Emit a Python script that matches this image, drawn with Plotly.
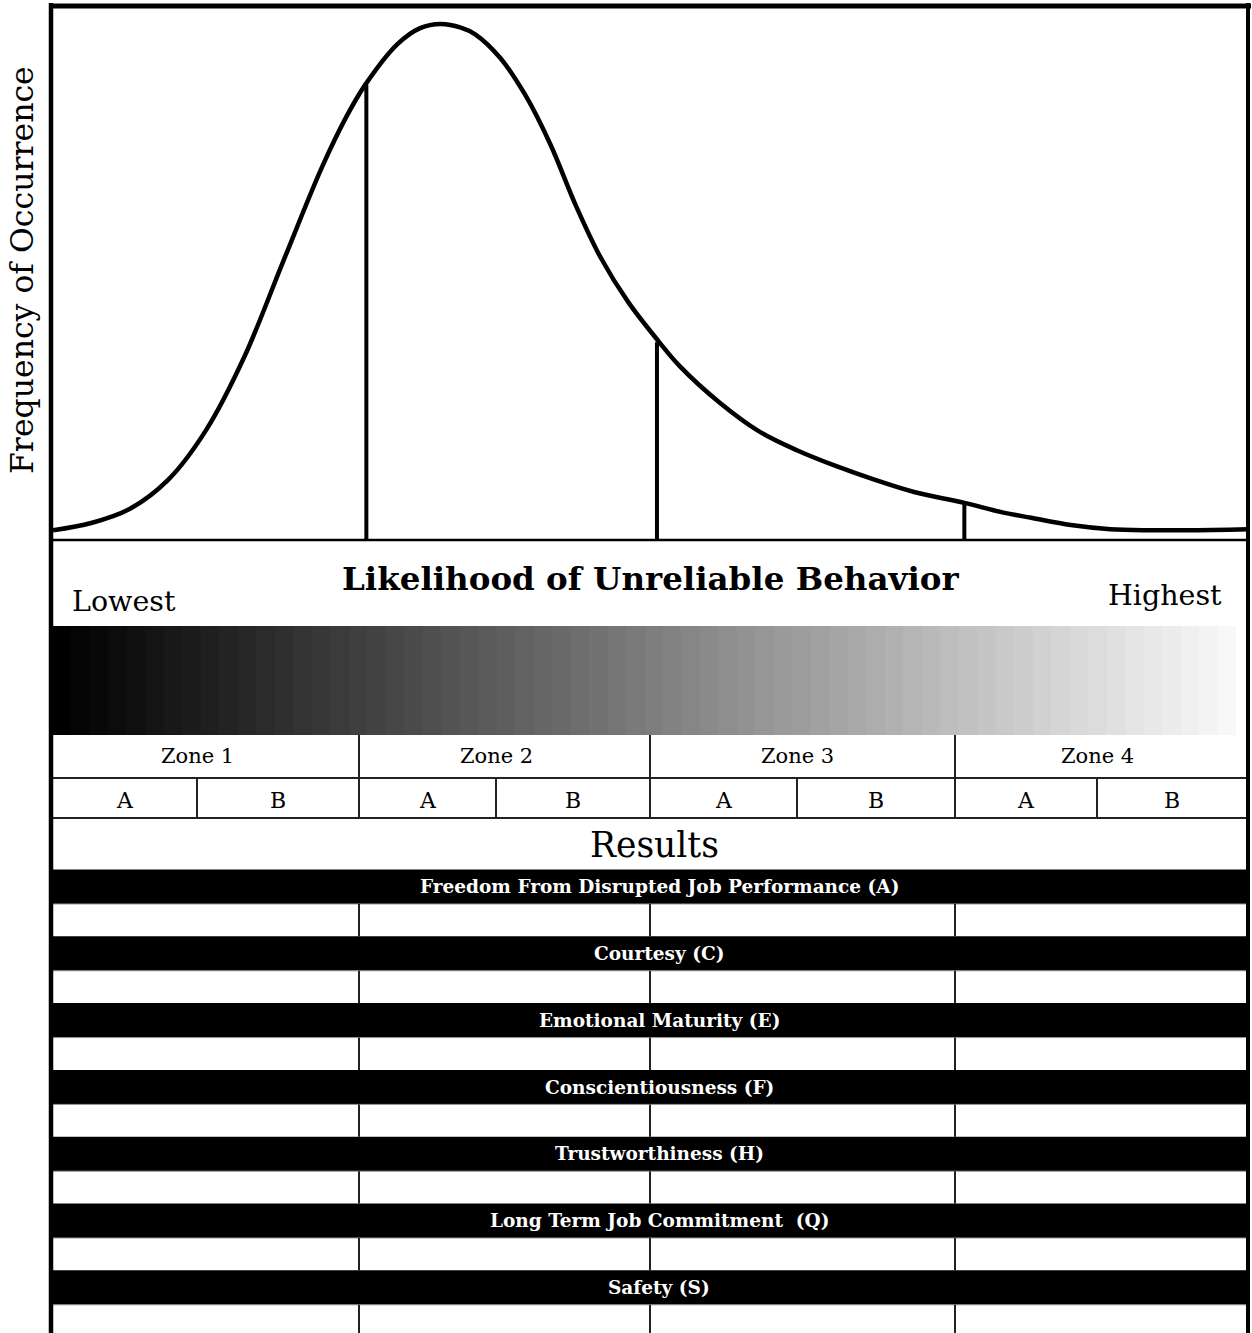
import plotly.graph_objects as go

W, H = 1252, 1333

# ---------------- data ----------------
score = [0, 3.2, 6.4, 9.6, 12.8, 16.0, 19.3, 22.5, 24.5, 26.1, 28.8, 30.7, 32.4,
         34.1, 35.3, 37.4, 39.5, 41.6, 43.7, 45.8, 48.1, 50.6, 52.4, 55.7, 59.0,
         62.2, 65.5, 68.8, 72.0, 76.2, 79.3, 81.8, 85.1, 88.4, 91.6, 94.9, 100]
frequency = [1.9, 3.3, 6.0, 11.6, 21.3, 35.5, 54.3, 72.3, 81.9, 88.2, 96.1, 99.2, 100,
             99.3, 98.0, 93.4, 86.2, 76.6, 64.9, 54.7, 46.1, 38.6, 33.7, 26.7, 21.1,
             17.4, 14.3, 11.6, 9.3, 7.2, 5.4, 4.3, 2.9, 2.1, 1.9, 1.9, 2.1]
cut_scores = [26.2, 50.5, 76.2]
cut_heights = [88.2, 38.3, 7.2]

zone_labels = ["Zone 1", "Zone 2", "Zone 3", "Zone 4"]
sub_labels = ["A", "B"]
result_labels = [
    "Freedom From Disrupted Job Performance (A)",
    "Courtesy (C)",
    "Emotional Maturity (E)",
    "Conscientiousness (F)",
    "Trustworthiness (H)",
    "Long Term Job Commitment&nbsp; (Q)",
    "Safety (S)",
]

# ---------------- layout geometry (pixels) ----------------
LEFT, RIGHT = 51, 1248
BASE_Y = 540
GRAD_TOP, GRAD_BOT, GRAD_RIGHT = 626, 735, 1236
ZONE_BOT, AB_BOT, RES_BOT = 778, 818, 869
zone_edges = [53, 359, 650, 955, 1247]
ab_mid = [197, 496, 797, 1097]
band_top0, band_pitch, band_h = 869.5, 66.8, 34.5

SERIF = "DejaVu Serif"

fig = go.Figure()

# gradient bar
n_steps = 64
edges = [53 + (GRAD_RIGHT - 53) * i / n_steps for i in range(n_steps + 1)]
fig.add_trace(go.Heatmap(
    z=[list(range(n_steps))], x=edges, y=[GRAD_TOP, GRAD_BOT],
    colorscale=[[0, "#000000"], [1, "#f8f8f8"]], showscale=False,
    hoverinfo="skip", xaxis="x2", yaxis="y2"))

# curve
fig.add_trace(go.Scatter(
    x=score, y=frequency, mode="lines",
    line=dict(color="black", width=4.5, shape="spline", smoothing=1.0),
    hoverinfo="skip", xaxis="x", yaxis="y", showlegend=False))

# cut lines
cx, cy = [], []
for s, h in zip(cut_scores, cut_heights):
    cx += [s, s, None]
    cy += [0, h, None]
fig.add_trace(go.Scatter(
    x=cx, y=cy, mode="lines", line=dict(color="black", width=4),
    hoverinfo="skip", xaxis="x", yaxis="y", showlegend=False))

shapes = []
def line(x0, y0, x1, y1, w=2, c="#111"):
    shapes.append(dict(type="line", xref="x2", yref="y2", x0=x0, y0=y0, x1=x1, y1=y1,
                       line=dict(color=c, width=w)))

def rect(x0, y0, x1, y1, c="black"):
    shapes.append(dict(type="rect", xref="x2", yref="y2", x0=x0, y0=y0, x1=x1, y1=y1,
                       fillcolor=c, line=dict(width=0)))

# baseline under curve
line(53, BASE_Y, 1247, BASE_Y, 2.5, "#000")
# table rows
line(53, ZONE_BOT, 1247, ZONE_BOT, 2, "#222")
line(53, AB_BOT, 1247, AB_BOT, 2, "#222")
for x in zone_edges[1:-1]:
    line(x, GRAD_BOT, x, AB_BOT, 2, "#222")
for x in ab_mid:
    line(x, ZONE_BOT, x, AB_BOT, 2, "#222")

annotations = []
def text(x, y, t, size, color="black", bold=False, angle=0, family=SERIF):
    annotations.append(dict(xref="x2", yref="y2", x=x, y=y, text=t, showarrow=False,
                            textangle=angle, xanchor="center", yanchor="middle",
                            font=dict(family=family, size=size, color=color,
                                      weight="bold" if bold else "normal")))

# result bands
for i, lab in enumerate(result_labels):
    top = band_top0 + i * band_pitch
    bot = top + band_h
    rect(53, top, 1247, bot)
    text(659, (top + bot) / 2, lab, 18.5, "white", True)
    nxt = band_top0 + (i + 1) * band_pitch if i < len(result_labels) - 1 else H
    line(53, bot, 1247, bot, 1, "#999")
    for x in zone_edges[1:-1]:
        line(x, bot, x, nxt, 2, "#222")

# outer frame
line(LEFT, 3, LEFT, H, 4.5, "#000")
line(49, 6, 1251, 6, 5, "#000")
line(RIGHT, 3, RIGHT, H, 4, "#000")

# texts
text(22, 270, "Frequency of Occurrence", 31.5, angle=-90)
text(650, 578, "Likelihood of Unreliable Behavior", 32.5, bold=True)
text(124, 601, "Lowest", 28.5)
text(1165, 595, "Highest", 28.5)
for zl, xm in zip(zone_labels, ab_mid):
    text(xm, 756, zl, 21)
for zi in range(4):
    a_c = (zone_edges[zi] + ab_mid[zi]) / 2
    b_c = (ab_mid[zi] + zone_edges[zi + 1]) / 2
    text(a_c, 800, sub_labels[0], 22)
    text(b_c, 800, sub_labels[1], 22)
text(654, 845, "Results", 34.5)

fig.update_layout(
    width=W, height=H, margin=dict(l=0, r=0, t=0, b=0),
    paper_bgcolor="white", plot_bgcolor="rgba(0,0,0,0)",
    showlegend=False, shapes=shapes, annotations=annotations,
    xaxis=dict(domain=[53 / W, 1249 / W], range=[0, 100], visible=False, fixedrange=True),
    yaxis=dict(domain=[(H - BASE_Y) / H, (H - 8) / H], range=[0, (BASE_Y - 8) / 516 * 100],
               visible=False, fixedrange=True),
    xaxis2=dict(domain=[0, 1], range=[0, W], visible=False, anchor="y2", fixedrange=True),
    yaxis2=dict(domain=[0, 1], range=[H, 0], visible=False, anchor="x2", fixedrange=True),
)

fig.write_html("out.html", config={"displayModeBar": False},
               post_script="document.body.style.margin='0px';document.body.style.overflow='hidden';")
